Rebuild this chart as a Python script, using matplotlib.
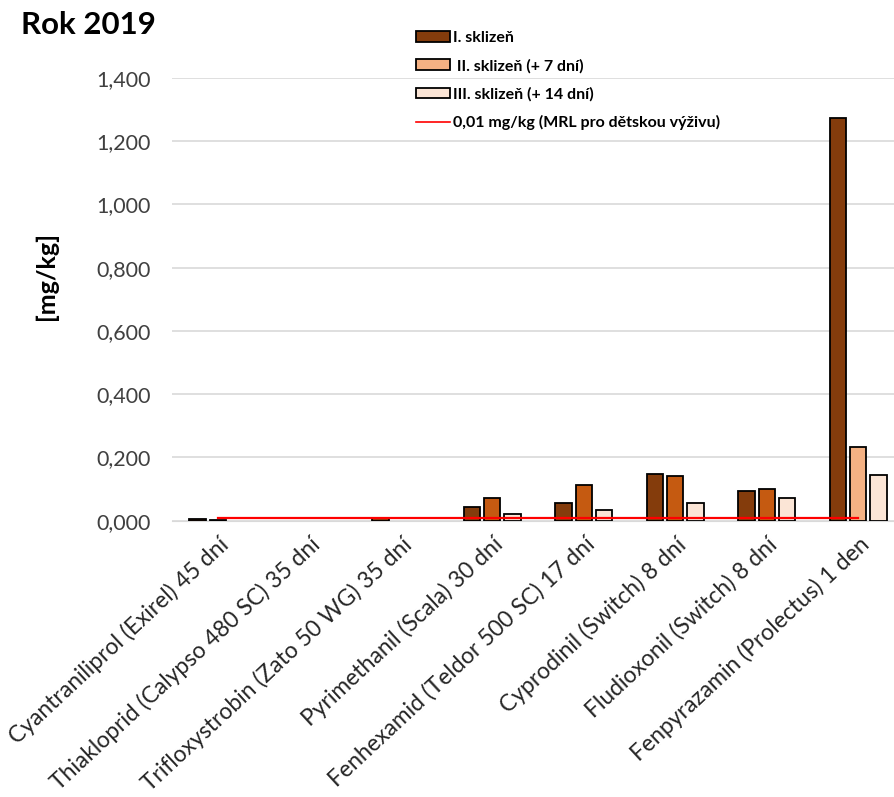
import matplotlib
matplotlib.use("Agg")
import matplotlib.pyplot as plt
import numpy as np
from matplotlib.patches import Patch
from matplotlib.lines import Line2D

plt.rcParams['font.family'] = ['Lato', 'DejaVu Sans']

categories = [
    "Cyantraniliprol (Exirel) 45 dní",
    "Thiakloprid (Calypso 480 SC) 35 dní",
    "Trifloxystrobin (Zato 50 WG) 35 dní",
    "Pyrimethanil (Scala) 30 dní",
    "Fenhexamid (Teldor 500 SC) 17 dní",
    "Cyprodinil (Switch) 8 dní",
    "Fludioxonil (Switch) 8 dní",
    "Fenpyrazamin (Prolectus) 1 den",
]
harvest1 = [0.004, 0.0, 0.009, 0.043, 0.057, 0.147, 0.094, 1.272]
harvest2 = [0.003, 0.0, 0.0, 0.073, 0.113, 0.142, 0.099, 0.233]
harvest3 = [0.0, 0.0, 0.0, 0.020, 0.034, 0.057, 0.072, 0.143]
mrl = [0.01] * len(categories)
series_labels = ["I. sklizeň", " II. sklizeň (+ 7 dní)", "III. sklizeň (+ 14 dní)",
                 "0,01 mg/kg (MRL pro dětskou výživu)"]
yticks = [0.0, 0.2, 0.4, 0.6, 0.8, 1.0, 1.2, 1.4]

c1 = "#843C0C"
c2 = "#C55A11"
c2b = "#F4B183"
c3 = "#FBE5D6"

W, H = 895, 797
fig = plt.figure(figsize=(W / 100, H / 100), dpi=100)
left_px, bottom_px, top_px = 172, 520.7, 78
ax = fig.add_axes([left_px / W, 1 - bottom_px / H, (W - left_px) / W, (bottom_px - top_px) / H])

x = np.arange(len(categories))
bw = 0.18
off = 0.22
colors2 = np.array([c2] * (len(categories) - 1) + [c2b])


def draw(values, offset, colors):
    v = np.asarray(values)
    m = v > 0
    col = colors if isinstance(colors, str) else np.asarray(colors)[m]
    ax.bar(x[m] + offset, v[m], bw, color=col, edgecolor="black", linewidth=1.3, zorder=3)


draw(harvest1, -off, c1)
draw(harvest2, 0, colors2)
draw(harvest3, off, c3)
ax.plot(x, mrl, color="#FF0000", linewidth=1.6, zorder=4)

cat_px = 91.5
ax.set_xlim(-0.5, -0.5 + (W - left_px) / cat_px)
ax.set_ylim(0, 1.4)
ax.set_yticks(yticks)
ax.set_yticklabels([f"{v:.3f}".replace('.', ',') for v in yticks], fontsize=15.5, color="#404040")
ax.yaxis.grid(True, color="#D9D9D9", linewidth=1.2, zorder=0)
ax.set_axisbelow(True)
for s in ["left", "right", "top"]:
    ax.spines[s].set_visible(False)
ax.spines["bottom"].set_color("#D9D9D9")
ax.tick_params(axis="y", length=0, pad=15)
ax.tick_params(axis="x", length=0, pad=9)
ax.set_xticks(x)
ax.set_xticklabels(categories, rotation=43, ha="right", rotation_mode="anchor",
                   fontsize=16.5, color="#262626")

ax.set_ylabel("[mg/kg]", fontsize=18, fontweight="bold")
ax.yaxis.set_label_coords(-(172 - 58) / (W - left_px), (520.7 - 276) / (520.7 - 78))

fig.text(21 / W, 1 - 25 / H, "Rok 2019", fontsize=22.5, fontweight="bold", va="center", ha="left")

handles = [
    Patch(facecolor=c1, edgecolor="black", linewidth=1.3),
    Patch(facecolor=c2b, edgecolor="black", linewidth=1.3),
    Patch(facecolor=c3, edgecolor="black", linewidth=1.3),
    Line2D([0], [0], color="#FF0000", linewidth=1.2),
]
leg = fig.legend(handles, series_labels, loc="upper left",
                 bbox_to_anchor=(402 / W, 1 - 17 / H), frameon=False,
                 prop={"size": 11.5, "weight": "bold"}, labelspacing=0.85,
                 handlelength=2.1, handleheight=0.65, handletextpad=0.2)

fig.savefig("out.png", dpi=100)
